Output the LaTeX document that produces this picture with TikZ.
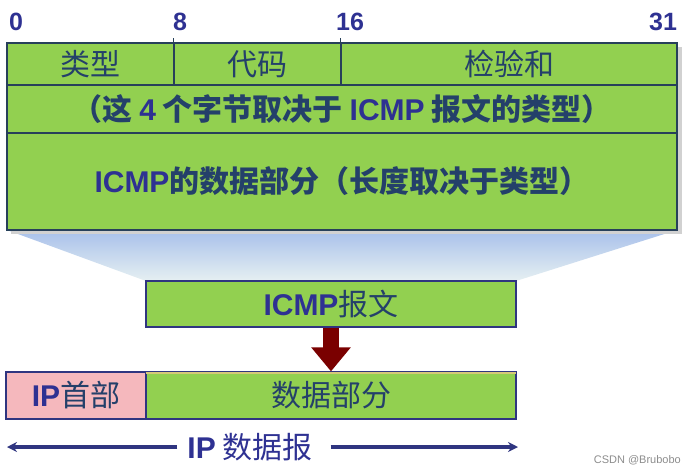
\documentclass[tikz,border=0pt]{standalone}
\usepackage{fontspec}
\setmainfont{Liberation Sans}
\newfontfamily\cjk{Noto Sans CJK SC}
\newfontfamily\en{Liberation Sans}
\usetikzlibrary{arrows.meta}
\definecolor{gfill}{HTML}{92D050}
\definecolor{pfill}{HTML}{F5B8BD}
\definecolor{tblue}{HTML}{2E3192}
\definecolor{tdark}{HTML}{24406A}
\definecolor{bord}{HTML}{27405A}
\definecolor{nav}{HTML}{2F3580}
\definecolor{darr}{HTML}{7A0000}
\definecolor{gtop}{HTML}{A8C0EA}
\definecolor{gbot}{HTML}{E6F0F2}
\tikzset{
  cell/.style={draw=bord, line width=1.5pt, fill=gfill, inner sep=0pt, text=tdark, font=\cjk\fontsize{30}{32}\selectfont},
  bcell/.style={draw=nav, line width=1.2pt, inner sep=0pt, text=tdark, font=\cjk\fontsize{30}{32}\selectfont},
  bitlbl/.style={text=tblue, font=\en\bfseries\fontsize{25}{27}\selectfont, inner sep=0pt},
}
\newcommand{\ENB}[1]{{\en\bfseries\color{tblue}#1}}
\begin{document}
\begin{tikzpicture}[x=1pt,y=-1pt]
\useasboundingbox (0,0) rectangle (693,474);
% gradient funnel
\shade[top color=gtop, bottom color=gbot]
  (7,230) -- (677,230) -- (516,281) -- (146,281) -- cycle;
% shadow
\fill[black!18] (11,47) rectangle (682,234);
% top structure
\node[cell, minimum width=167pt, minimum height=42pt] (typ) at (90.5,64) {类型};
\node[cell, minimum width=167pt, minimum height=42pt] (code) at (257.5,64) {代码};
\node[cell, minimum width=336pt, minimum height=42pt] (chk) at (509,64) {检验和};
\node[cell, minimum width=670pt, minimum height=48pt] (row2) at (342,109)
  {{\bfseries（这 \ENB{4} 个字节取决于 \ENB{ICMP} 报文的类型）}};
\node[cell, minimum width=670pt, minimum height=97pt] (row3) at (342,181.5)
  {{\bfseries\ENB{ICMP}的数据部分（长度取决于类型）}};
\draw[bord, line width=1.5pt] (code.north west) ++(0,-4) -- (code.south west);
\draw[bord, line width=1.5pt] (chk.north west) ++(0,-4) -- (chk.south west);
% bit labels
\node[bitlbl] (b0) at (16,22) {0};
\node[bitlbl] (b8) at (180,22) {8};
\node[bitlbl] (b16) at (350,22) {16};
\node[bitlbl] (b31) at (663,22) {31};
% ICMP message
\node[bcell, fill=gfill, minimum width=370pt, minimum height=46pt] (icmp) at (331,304)
  {\ENB{ICMP}报文};
% IP datagram
\node[bcell, fill=pfill, minimum width=140pt, minimum height=47pt] (iphdr) at (76,395.5)
  {\ENB{IP}首部};
\node[bcell, fill=gfill, minimum width=370pt, minimum height=47pt] (data) at (331,395.5)
  {数据部分};
\draw[color={rgb,255:red,214;green,200;blue,120}, line width=2pt]
  ([xshift=1pt,yshift=-2pt]data.north west) -- ([xshift=-1pt,yshift=-2pt]data.north east);
% arrow
\draw[darr, line width=16pt, -{Triangle[width=38pt,length=24pt]}] (icmp.south) -- (data.north);
% IP datagram span
\node[text=tblue, font=\cjk\fontsize{30}{32}\selectfont, inner sep=0pt] (iplbl) at (250,447) {\ENB{IP} 数据报};
\coordinate (lend) at (7,447);
\coordinate (rend) at (518,447);
\draw[nav, line width=3.5pt, -{Stealth[length=10pt,width=10pt]}] ([xshift=-10pt]iplbl.west) -- (lend);
\draw[nav, line width=3.5pt, -{Stealth[length=10pt,width=10pt]}] ([xshift=18pt]iplbl.east) -- (rend);
% watermark
\node[text=black!45, font=\en\fontsize{11}{12}\selectfont, anchor=east, inner sep=0pt] (wm) at (681,460) {CSDN @Brubobo};
\end{tikzpicture}
\end{document}
